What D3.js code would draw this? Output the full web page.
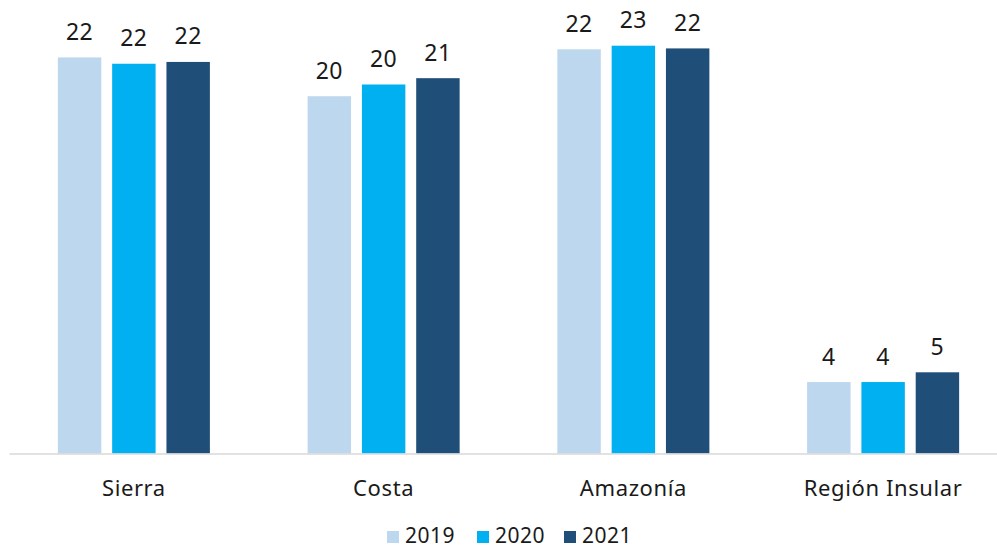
<!DOCTYPE html>
<html>
<head>
<meta charset="utf-8">
<script src="https://cdn.jsdelivr.net/npm/d3@7"></script>
<style>
    body { margin: 0; background: #fff; }
    svg text { font-family: "Noto Sans", "DejaVu Sans", sans-serif; fill: #1a1a1a; }
</style>
</head>
<body>
<div id="chart"></div>
<script>
// regions and yearly values
const regions = ['Sierra', 'Costa', 'Amazonía', 'Región Insular'];
const years = ['2019', '2020', '2021'];
const values2019 = [21.95, 19.8, 22.4, 3.96];
const values2020 = [21.6, 20.45, 22.6, 3.96];
const values2021 = [21.7, 20.8, 22.45, 4.5];
const yearColors = ['#BDD7EE', '#00B0F0', '#1F4E79'];

const seriesValues = [values2019, values2020, values2021];

const width = 997, height = 549;
const margin = { top: 2, left: 9, right: -11, bottom: 95.5 };

const svg = d3.select('#chart')
    .append('svg')
    .attr('width', width)
    .attr('height', height);

const x0 = d3.scaleBand()
    .domain(regions)
    .range([margin.left, width - margin.right])
    .paddingInner(0)
    .paddingOuter(0);

const x1 = d3.scaleBand()
    .domain(years)
    .range([0, x0.bandwidth()])
    .paddingInner(0.2)
    .paddingOuter(0.9);

const y = d3.scaleLinear()
    .domain([0, 25])
    .range([height - margin.bottom, margin.top + 0.4]);

const color = d3.scaleOrdinal().domain(years).range(yearColors);

// table built from the arrays
const rows = regions.map((r, i) => ({
    region: r,
    bars: years.map((yr, j) => ({ year: yr, value: seriesValues[j][i] }))
}));

const groups = svg.selectAll('g.region')
    .data(rows)
    .join('g')
    .attr('class', 'region')
    .attr('transform', d => `translate(${x0(d.region)},0)`);

groups.selectAll('rect')
    .data(d => d.bars)
    .join('rect')
    .attr('x', d => x1(d.year))
    .attr('y', d => y(d.value))
    .attr('width', x1.bandwidth())
    .attr('height', d => y(0) - y(d.value))
    .attr('fill', d => color(d.year));

groups.selectAll('text.value')
    .data(d => d.bars)
    .join('text')
    .attr('class', 'value')
    .attr('x', d => x1(d.year) + x1.bandwidth() / 2)
    .attr('y', d => y(d.value) - 17.5)
    .attr('text-anchor', 'middle')
    .style('font-size', '23px')
    .style('letter-spacing', '0.5px')
    .text(d => d3.format('.0f')(d.value));

// x axis
const xAxis = d3.axisBottom(x0).tickSize(0).tickPadding(27);
const xAxisG = svg.append('g')
    .attr('transform', `translate(0,${y(0)})`)
    .call(xAxis);
xAxisG.select('.domain').attr('stroke', '#d9d9d9').attr('stroke-width', 1.5);
xAxisG.selectAll('text')
    .style('font-size', '22px')
    .style('letter-spacing', '0.6px')
    .attr('fill', '#1a1a1a');

// legend
const legendX = [387, 477, 564];
const legend = svg.append('g').selectAll('g')
    .data(years)
    .join('g')
    .attr('transform', (d, i) => `translate(${legendX[i]},531)`);

legend.append('rect')
    .attr('width', 12)
    .attr('height', 12)
    .attr('fill', d => color(d));

legend.append('text')
    .attr('x', 18)
    .attr('y', 11.5)
    .style('font-size', '21px')
    .style('letter-spacing', '0.5px')
    .text(d => d);
</script>
</body>
</html>
